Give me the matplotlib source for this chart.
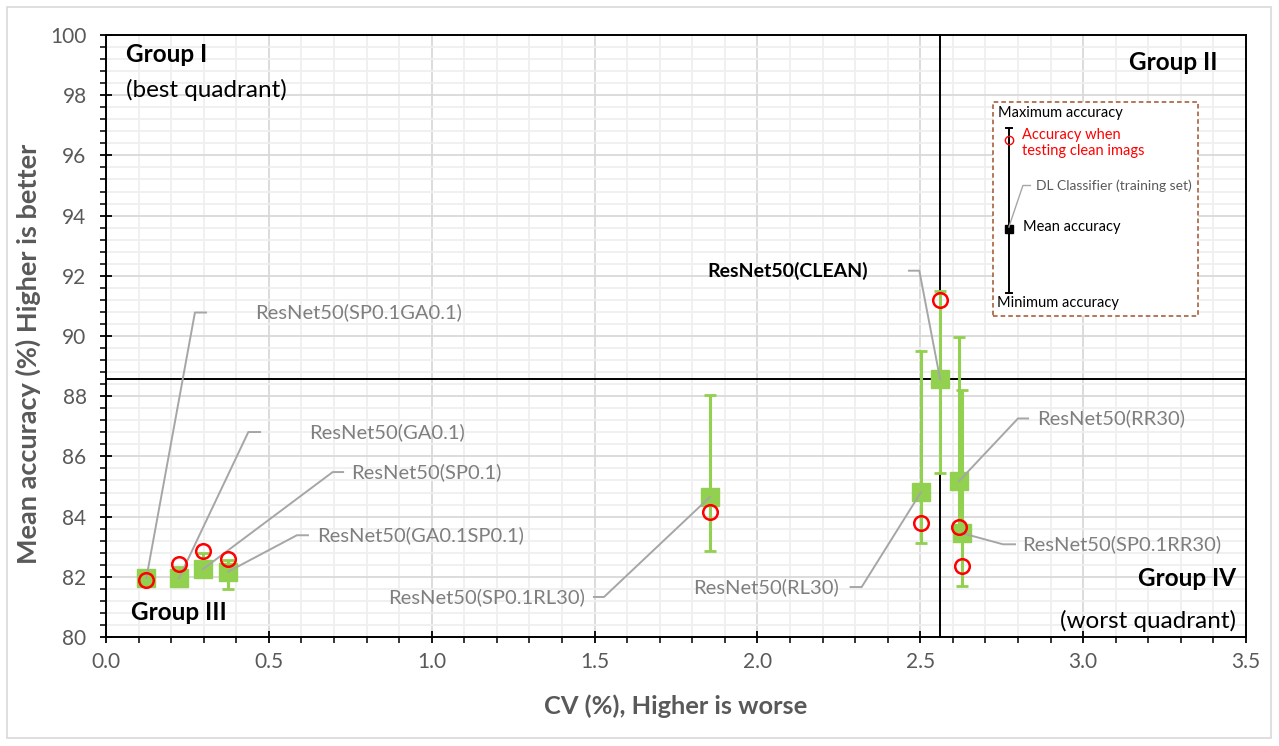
import matplotlib
matplotlib.use("Agg")
import matplotlib.pyplot as plt
from matplotlib.ticker import MultipleLocator
from matplotlib.patches import Rectangle

plt.rcParams['font.family'] = ['Lato', 'DejaVu Sans']

# data
models = ["ResNet50(SP0.1GA0.1)", "ResNet50(GA0.1)", "ResNet50(SP0.1)",
          "ResNet50(GA0.1SP0.1)", "ResNet50(SP0.1RL30)", "ResNet50(RL30)",
          "ResNet50(CLEAN)", "ResNet50(RR30)", "ResNet50(SP0.1RR30)"]
cv = [0.124, 0.224, 0.297, 0.375, 1.854, 2.502, 2.561, 2.619, 2.628]
mean_acc = [81.96, 81.95, 82.25, 82.17, 84.65, 84.81, 88.56, 85.18, 83.45]
max_acc = [82.15, 82.33, 82.80, 82.55, 88.05, 89.49, 91.49, 89.96, 88.21]
min_acc = [81.80, 81.78, 82.05, 81.58, 82.85, 83.11, 85.46, 83.30, 81.69]
clean_acc = [81.90, 82.44, 82.85, 82.59, 84.16, 83.80, 91.18, 83.66, 82.37]
clean_idx = 6

# label layout: elbow point, stub end, text anchor x, alignment
label_elbow = [(0.273, 90.78), (0.437, 86.81), (0.696, 85.48), (0.586, 83.38),
               (1.529, 81.33), (2.320, 81.66), (2.497, 92.17), (2.800, 87.26),
               (2.754, 83.08)]
label_stub = [0.307, 0.473, 0.728, 0.620, 1.498, 2.286, 2.465, 2.831, 2.791]
label_textx = [0.457, 0.623, 0.754, 0.648, 1.471, 2.250, 2.340, 2.858, 2.812]
label_ha = ["left", "left", "left", "left", "right", "right", "right", "left", "left"]

green = "#92D050"
gray_txt = "#595959"
lbl_gray = "#7F7F7F"

fig = plt.figure(figsize=(12.79, 7.46), dpi=100)
ax = fig.add_axes([106 / 1279, 109 / 746, 1140 / 1279, 602 / 746])

# outer frame
fig.patches.append(Rectangle((7 / 1279, 8 / 746), 1264 / 1279, 731 / 746,
                             transform=fig.transFigure, fill=False,
                             edgecolor="#D9D9D9", lw=1.2))

ax.set_xlim(0, 3.5)
ax.set_ylim(80, 100)
ax.xaxis.set_major_locator(MultipleLocator(0.5))
ax.xaxis.set_minor_locator(MultipleLocator(0.1))
ax.yaxis.set_major_locator(MultipleLocator(2))
ax.yaxis.set_minor_locator(MultipleLocator(0.4))
ax.xaxis.set_major_formatter(plt.FormatStrFormatter("%.1f"))
ax.grid(which="major", color="#D9D9D9", lw=1.3, zorder=0)
ax.grid(which="minor", color="#EFEFEF", lw=1.3, zorder=0)
ax.set_axisbelow(True)
for s in ax.spines.values():
    s.set_color("black")
    s.set_linewidth(1.4)
ax.tick_params(which="major", direction="inout", length=8, width=1.3,
               labelsize=15, labelcolor=gray_txt)
ax.tick_params(axis="y", which="major", pad=10)
ax.tick_params(axis="x", which="major", pad=7)
ax.tick_params(which="minor", direction="out", length=4, width=1.1)

ax.set_xlabel("CV (%), Higher is worse", fontsize=18.3, fontweight="bold",
              color=gray_txt, labelpad=16)
ax.set_ylabel("Mean accuracy (%) Higher is better", fontsize=19.5,
              fontweight="bold", color=gray_txt)
ax.yaxis.set_label_coords(-0.057, 0.47)

# quadrant lines through the CLEAN model
ax.axvline(cv[clean_idx], color="black", lw=1.4, zorder=2)
ax.axhline(mean_acc[clean_idx], color="black", lw=1.4, zorder=2)

yerr = [[m - lo for m, lo in zip(mean_acc, min_acc)],
        [hi - m for m, hi in zip(mean_acc, max_acc)]]
ax.errorbar(cv, mean_acc, yerr=yerr, fmt="s", color=green, ms=13,
            elinewidth=2.2, capsize=4, capthick=2, zorder=3)
ax.plot(cv, clean_acc, "o", mfc="none", mec="red", mew=1.8, ms=10.5, zorder=5)

# leader lines + labels
for i, name in enumerate(models):
    ex, ey = label_elbow[i]
    ax.plot([cv[i], ex, label_stub[i]], [mean_acc[i], ey, ey],
            color="#A6A6A6", lw=1.4, zorder=4)
    bold = i == clean_idx
    ax.text(label_textx[i], ey, name, ha=label_ha[i], va="center",
            fontsize=14.5 if not bold else 14,
            fontweight="bold" if bold else "normal",
            color="black" if bold else lbl_gray, zorder=6)

# quadrant names
gs = 17.5
ax.text(0.061, 99.34, "Group I", fontsize=gs, fontweight="bold", va="center")
ax.text(0.061, 98.18, "(best quadrant)", fontsize=gs, va="center")
ax.text(3.414, 99.07, "Group II", fontsize=gs, fontweight="bold",
        va="center", ha="right")
ax.text(0.077, 80.83, "Group III", fontsize=gs, fontweight="bold", va="center")
ax.text(3.469, 81.96, "Group IV", fontsize=gs, fontweight="bold",
        va="center", ha="right")
ax.text(3.469, 80.53, "(worst quadrant)", fontsize=gs, va="center", ha="right")

# explanatory key box
ax.add_patch(Rectangle((2.723, 90.65), 0.630, 7.13, fill=True, facecolor="white",
                       edgecolor="#A0522D", ls=(0, (3, 2)), lw=1.1, zorder=6))
kx = 2.772
ax.plot([kx, kx], [91.44, 96.92], color="black", lw=1.4, zorder=7)
for yy in (91.44, 96.92):
    ax.plot([kx - 0.009, kx + 0.009], [yy, yy], color="black", lw=1.4, zorder=7)
ax.plot([kx], [93.57], "s", color="black", ms=6, zorder=7)
ax.plot([kx], [96.52], "o", mfc="none", mec="red", mew=1.0, ms=6, zorder=7)
ax.plot([kx, 2.815, 2.838], [93.62, 95.00, 95.00], color="#A6A6A6", lw=1.0, zorder=7)
ax.text(2.739, 97.41, "Maximum accuracy", fontsize=10.5, va="center", zorder=8)
ax.text(2.812, 96.40, "Accuracy when\ntesting clean imags", fontsize=10.5,
        va="center", color="red", linespacing=1.2, zorder=8)
ax.text(2.855, 95.00, "DL Classifier (training set)", fontsize=10,
        va="center", color=gray_txt, zorder=8)
ax.text(2.815, 93.63, "Mean accuracy", fontsize=10.5, va="center", zorder=8)
ax.text(2.736, 91.08, "Minimum accuracy", fontsize=10.5, va="center", zorder=8)

fig.savefig("out.png", dpi=100)
